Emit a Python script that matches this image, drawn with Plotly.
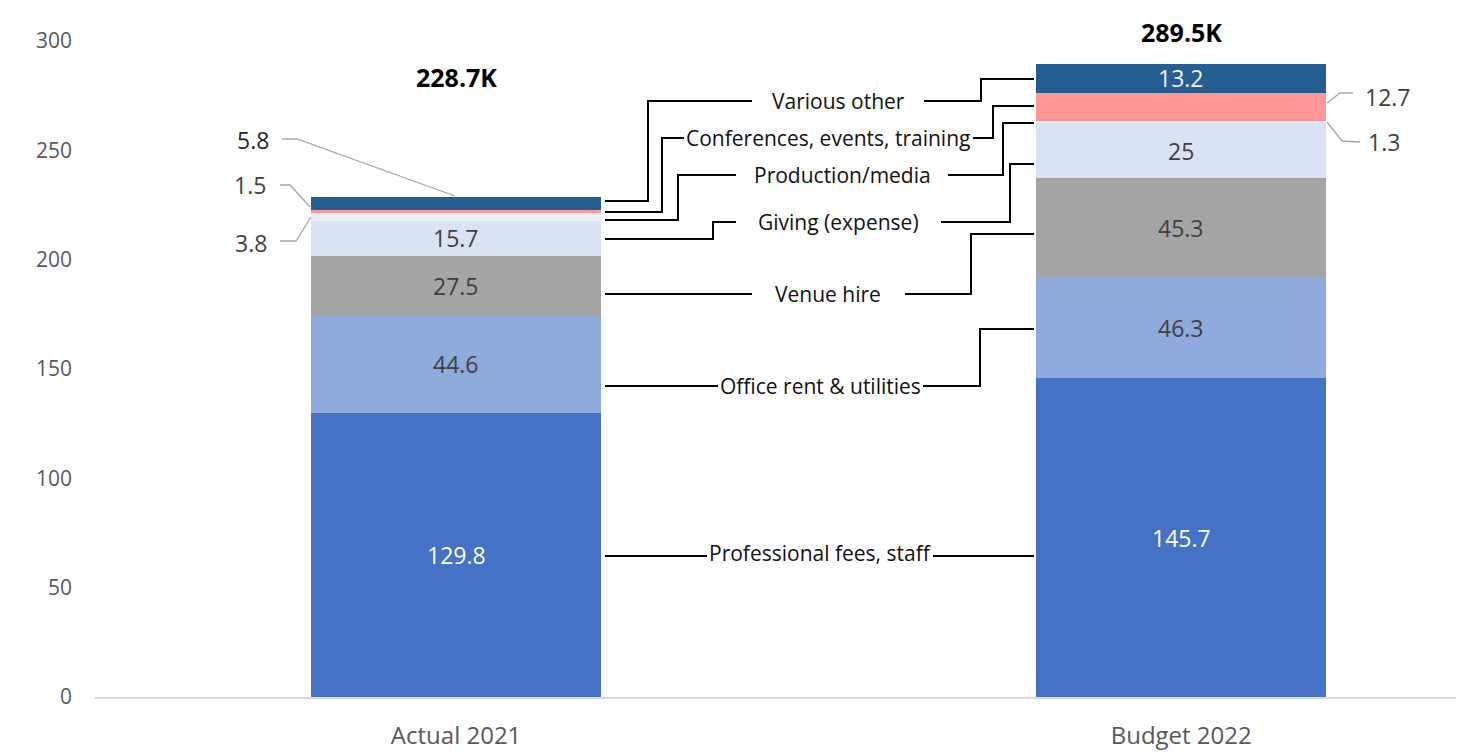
import plotly.graph_objects as go

# ---------------- data ----------------
categories = ["Actual 2021", "Budget 2022"]
series_names = [
    "Professional fees, staff",
    "Office rent & utilities",
    "Venue hire",
    "Giving (expense)",
    "Production/media",
    "Conferences, events, training",
    "Various other",
]
actual_2021 = [129.8, 44.6, 27.5, 15.7, 3.8, 1.5, 5.8]
budget_2022 = [145.7, 46.3, 45.3, 25.0, 1.3, 12.7, 13.2]
totals_text = ["228.7K", "289.5K"]
y_ticks = [0, 50, 100, 150, 200, 250, 300]

# ---------------- style ----------------
colors = ["#4472C4", "#8FAADC", "#A5A5A5", "#DAE3F3", "#ECEEF4", "#FF9896", "#255E91"]
inside_label_color = ["white", "#404040", "#404040", "#404040", "#404040", "#404040", "#F2F2F2"]
FONT = "Open Sans"
OFF = 8  # page body margin
W, H = 1456, 747
ML, MR, MT, MB = 87, 0, 33, 58
BAR_W = 0.4
X_RANGE = [-0.498, 1.390]
Y_RANGE = [0, 300]

plot_w = W - ML - MR
plot_h = H - MT - MB


def px_x(px):
    """page pixel column -> x data coordinate"""
    return X_RANGE[0] + (px - OFF - ML) / plot_w * (X_RANGE[1] - X_RANGE[0])


def px_y(py):
    """page pixel row -> y data coordinate"""
    return Y_RANGE[1] - (py - OFF - MT) / plot_h * (Y_RANGE[1] - Y_RANGE[0])


values = [actual_2021, budget_2022]

fig = go.Figure()
for i, name in enumerate(series_names):
    fig.add_trace(go.Bar(
        x=[0, 1],
        y=[values[0][i], values[1][i]],
        name=name,
        marker=dict(color=colors[i], line=dict(width=0)),
        width=BAR_W,
        showlegend=False,
        hoverinfo="name+y",
    ))

annotations = []
shapes = []

# in-bar labels (segments large enough)
show_inside = {
    0: [0, 1, 2, 3],
    1: [0, 1, 2, 3, 6],
}
total_shift = [120, 32]
for c in (0, 1):
    cum = 0
    for i, v in enumerate(values[c]):
        mid = cum + v / 2
        cum += v
        if i in show_inside[c]:
            txt = f"{v:g}"
            annotations.append(dict(x=c, y=mid, xref="x", yref="y", text=txt,
                                    showarrow=False,
                                    font=dict(family=FONT, size=23, color=inside_label_color[i])))
    # totals
    annotations.append(dict(x=c, y=cum, xref="x", yref="y", text=f"<b>{totals_text[c]}</b>",
                            showarrow=False, yshift=total_shift[c],
                            font=dict(family=FONT, size=25, color="black")))

# small-value labels with grey leader lines (pixel layout)
small_labels = [
    (f"{actual_2021[6]:g}", 253, 140, [(282, 139), (297, 139), (455, 196)], "#262626"),
    (f"{actual_2021[5]:g}", 250, 185, [(280, 185), (290, 185), (310, 207)], "#404040"),
    (f"{actual_2021[4]:g}", 251, 243, [(280, 241), (296, 241), (311, 217)], "#404040"),
    (f"{budget_2022[5]:g}", 1388, 97, [(1353, 93), (1340, 93), (1327, 103)], "#404040"),
    (f"{budget_2022[4]:g}", 1384, 142, [(1360, 142), (1342, 141), (1327, 122)], "#404040"),
]
for txt, tx, ty, pts, col in small_labels:
    annotations.append(dict(x=px_x(tx), y=px_y(ty), xref="x", yref="y", text=txt,
                            showarrow=False,
                            font=dict(family=FONT, size=23, color=col)))
    path = "M " + " L ".join(f"{px_x(a)},{px_y(b)}" for a, b in pts)
    shapes.append(dict(type="path", xref="x", yref="y", path=path,
                       line=dict(color="#A6A6A6", width=1.3)))

# category callouts with black elbow connectors (page-pixel layout)
callouts = [
    ("Various other", 838, 101, 201, 648, 752, 924, 981, 79),
    ("Conferences, events, training", 828, 138, 212, 662, 684, 973, 993, 106),
    ("Production/media", 842, 175, 220, 678, 736, 948, 1003, 123),
    ("Giving (expense)", 838, 222, 239, 713, 736, 941, 1010, 164),
    ("Venue hire", 828, 294, 294, None, 752, 905, 971, 234),
    ("Office rent & utilities", 820, 386, 386, None, 718, 923, 980, 329),
    ("Professional fees, staff", 820, 553, 556, None, 707, 933, None, 556),
]
BAR_L_EDGE = 605
BAR_R_EDGE = 1034
for name, tx, ty, ly, lex, lend, rstart, rex, ry in callouts:
    annotations.append(dict(x=px_x(tx), y=px_y(ty), xref="x", yref="y", text=name,
                            showarrow=False,
                            font=dict(family=FONT, size=21, color="#111111")))
    line_y = ty if name != "Professional fees, staff" else ly
    pts = [(BAR_L_EDGE, ly)]
    if lex is not None:
        pts += [(lex, ly), (lex, line_y)]
    pts.append((lend, line_y))
    pts2 = [(rstart, line_y)]
    if rex is not None:
        pts2 += [(rex, line_y), (rex, ry)]
    pts2.append((BAR_R_EDGE, ry))
    for p in (pts, pts2):
        path = "M " + " L ".join(f"{px_x(a)},{px_y(b)}" for a, b in p)
        shapes.append(dict(type="path", xref="x", yref="y", path=path,
                           line=dict(color="black", width=2)))

fig.update_layout(
    width=W, height=H,
    margin=dict(l=ML, r=MR, t=MT, b=MB, pad=0),
    barmode="stack",
    bargap=0,
    paper_bgcolor="white",
    plot_bgcolor="white",
    annotations=annotations,
    shapes=shapes,
    font=dict(family=FONT),
    xaxis=dict(
        range=X_RANGE,
        tickmode="array", tickvals=[0, 1], ticktext=categories,
        showgrid=False, zeroline=False,
        showline=True, linecolor="#D9D9D9", linewidth=1.5,
        ticks="", ticklabelstandoff=16,
        tickfont=dict(family=FONT, size=24, color="#595959"),
        fixedrange=True,
    ),
    yaxis=dict(
        range=Y_RANGE,
        tickmode="array", tickvals=y_ticks,
        showgrid=False, zeroline=False, showline=False,
        ticks="", ticklabelstandoff=22,
        tickfont=dict(family=FONT, size=21, color="#595959"),
        fixedrange=True,
    ),
)

fig.write_html("out.html")
